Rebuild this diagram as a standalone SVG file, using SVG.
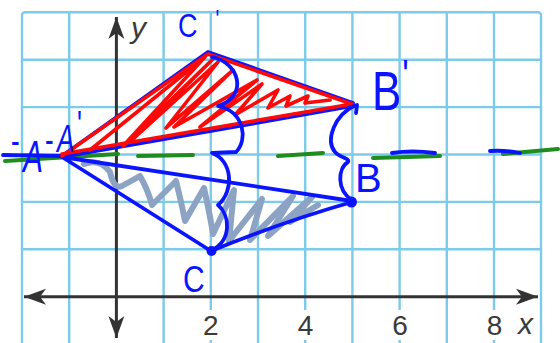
<svg xmlns="http://www.w3.org/2000/svg" width="560" height="343" viewBox="0 0 560 343">
<defs>
<style>
.grid{stroke:#7ccbe9;stroke-width:2.4;fill:none}
.axis{stroke:#333;stroke-width:3;fill:none}
.num{font-family:"Liberation Sans",Arial,sans-serif;font-size:28px;fill:#3a3a3a;text-anchor:middle}
.var{font-family:"Liberation Sans",Arial,sans-serif;font-size:30px;font-style:italic;fill:#3a3a3a}
.blue{stroke:#0a14ff;stroke-width:3.8;fill:none;stroke-linecap:round;stroke-linejoin:round}
.red{stroke:#ff0808;stroke-width:3.6;fill:none;stroke-linecap:round;stroke-linejoin:round}
.green{stroke:#1e8c1e;stroke-width:4;fill:none;stroke-linecap:round}
.hatch{stroke:#8ca3c4;stroke-width:6;fill:none;stroke-linecap:round;stroke-linejoin:round}
.hand{font-family:"Liberation Sans",Arial,sans-serif;fill:#0a14ff}
</style>
<marker id="arr" markerUnits="userSpaceOnUse" markerWidth="24" markerHeight="18" refX="22" refY="8" orient="auto-start-reverse">
<path d="M0,0 L22,8 L0,16 L6,8 Z" fill="#333"/>
</marker>
</defs>
<rect width="560" height="343" fill="#fff"/>
<g id="grid">
<rect class="grid" x="22" y="12.3" width="519" height="360" rx="3"/>
<path class="grid" d="M69.2,12V343 M163.6,12V343 M210.8,12V343 M258,12V343 M305.2,12V343 M352.4,12V343 M399.6,12V343 M446.8,12V343 M494,12V343 M22,59.7H541 M22,107.1H541 M22,154.5H541 M22,201.9H541 M22,249.3H541"/>
</g>
<g id="axes">
<line class="axis" x1="24" y1="296.7" x2="538" y2="296.7" marker-start="url(#arr)" marker-end="url(#arr)"/>
<line class="axis" x1="116.4" y1="17" x2="116.4" y2="338" marker-start="url(#arr)" marker-end="url(#arr)"/>
<g fill="#fff">
<rect x="200" y="310" width="22" height="30"/>
<rect x="294" y="310" width="22" height="30"/>
<rect x="389" y="310" width="22" height="30"/>
<rect x="483" y="310" width="22" height="30"/>
</g>
<text class="num" x="210.8" y="335">2</text>
<text class="num" x="305.6" y="335">4</text>
<text class="num" x="400" y="335">6</text>
<text class="num" x="494.5" y="335">8</text>
<text class="var" x="518" y="334">x</text>
<text class="var" x="131" y="38">y</text>
</g>
<g id="midline">
<path class="green" d="M5,161 L118,154 M138,156 L193,155 M278,156 L323,153 M373,158 L440,156 M503,154 L558,149"/>
<path class="blue" d="M3,155 L62,156 M392,153 Q412,150 435,153 M490,151 Q505,150 520,153"/>
</g>
<g id="lower-triangle">
<path class="hatch" d="M84,164 Q100,158 110,172 Q114,190 122,186 L140,176 Q148,190 152,205 L176,181 Q182,205 185,221 L204,188 Q210,215 213,234 L234,190 L229,241 L262,199 L250,240 L293,196 L268,236 L312,197 L290,222 L318,205"/>
<path class="blue" d="M62,157 L352,201 M62,157 L211,251 M211,251 Q282,222 352,202"/>
<circle cx="211.5" cy="251" r="5" fill="#0a14ff"/>
<circle cx="351.5" cy="202" r="5.5" fill="#0a14ff"/>
</g>
<g id="upper-triangle">
<path class="blue" d="M62,156 L208,52 L353,103 M62,157 L353,106"/>
<path class="red" d="M90,150 L205,57 L123,146 L213,59 L132,140 L218,62 L166,128 L233,70 L174,127 L257,80 L200,127 L262,84 L235,115 L278,90 L268,108 L290,96 L286,106 L308,96 L305,103 L330,100"/>
<path class="red" d="M62,156 L208,54 L352,104 L62,154"/>
</g>
<g id="braces">
<path class="blue" d="M212,57 C238,62 250,95 218,106 C245,112 248,140 236,152 L212,153 C232,160 235,190 218,205 C230,215 232,240 212,250"/>
<path class="blue" d="M354,106 C335,115 325,140 335,152 C340,158 350,158 348,162 C338,168 336,190 352,200 M348,108 L357,105 L356,113"/>
</g>
<g id="labels">
<text class="hand" font-size="27" transform="translate(178,37) scale(1,1.25)">C<tspan dx="18" dy="-7" font-size="20">'</tspan></text>
<text class="hand" font-size="30" transform="translate(183,292) scale(1,1.25)">C</text>
<text class="hand" font-size="44" transform="translate(372,110) scale(1,1.25)">B<tspan dx="1" dy="-17" font-size="34">'</tspan></text>
<text class="hand" font-size="40" x="355" y="192">B</text>
<text class="hand" font-size="26" transform="scale(1,1.5)"><tspan x="11" y="102.7">-</tspan><tspan x="23" y="114.7" font-size="30" font-style="italic">A</tspan><tspan x="45" y="102">-</tspan><tspan x="57" y="101.3" font-style="italic">A</tspan><tspan x="77" y="92">'</tspan></text>
</g>
</svg>
